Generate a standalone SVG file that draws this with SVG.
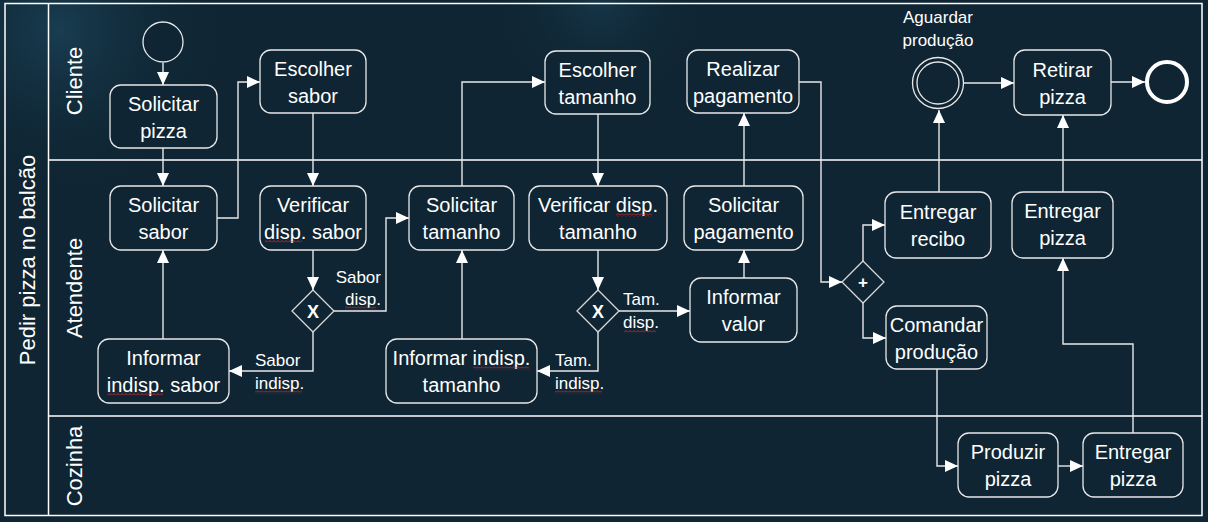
<svg xmlns="http://www.w3.org/2000/svg" width="1208" height="522" viewBox="0 0 1208 522">
<defs>
<radialGradient id="glow1" cx="60" cy="30" r="170" gradientUnits="userSpaceOnUse">
<stop offset="0" stop-color="#2a6a88" stop-opacity="0.35"/>
<stop offset="1" stop-color="#0f2533" stop-opacity="0"/>
</radialGradient>
<radialGradient id="glow2" cx="600" cy="0" r="110" gradientUnits="userSpaceOnUse">
<stop offset="0" stop-color="#2a6a88" stop-opacity="0.25"/>
<stop offset="1" stop-color="#0f2533" stop-opacity="0"/>
</radialGradient>
<marker id="arr" markerUnits="userSpaceOnUse" markerWidth="13" markerHeight="12" viewBox="0 0 13 12" refX="13" refY="6" orient="auto">
<path d="M0,0 L13,6 L0,12 z" fill="#ffffff"/>
</marker>
<pattern id="sq" width="4" height="3" patternUnits="userSpaceOnUse">
<path d="M0,2.5 L2,0.5 L4,2.5" fill="none" stroke="#e02828" stroke-width="0.9"/>
</pattern>
<style>
.lane{fill:none;stroke:#ffffff;stroke-width:1.5}
.task{fill:#0f2533;stroke:#e8e8e8;stroke-width:1.3}
.conn{fill:none;stroke:#e8e8e8;stroke-width:1.4;marker-end:url(#arr)}
.t{font-family:"Liberation Sans",Arial,sans-serif;font-size:20px;fill:#ffffff;text-anchor:middle}
.lbl{font-family:"Liberation Sans",Arial,sans-serif;font-size:17px;fill:#ffffff}
.lt{font-family:"Liberation Sans",Arial,sans-serif;font-size:22px;fill:#ffffff;text-anchor:middle}
.gw{fill:#0f2533;stroke:#d8d8d8;stroke-width:1.3}
.gm{font-family:"Liberation Sans",Arial,sans-serif;font-weight:bold;fill:#ffffff;text-anchor:middle}
.sq{fill:url(#sq)}
</style>
</defs>
<rect x="0" y="0" width="1208" height="522" fill="#0f2533"/>
<rect x="0" y="0" width="1208" height="522" fill="url(#glow1)"/>
<rect x="0" y="0" width="1208" height="522" fill="url(#glow2)"/>

<g id="pool">
<rect class="lane" x="5" y="3.5" width="1197" height="512"/>
<line class="lane" x1="48.5" y1="3.5" x2="48.5" y2="515.5"/>
<line class="lane" x1="48.5" y1="160" x2="1202" y2="160"/>
<line class="lane" x1="48.5" y1="416" x2="1202" y2="416"/>
<text class="lt" transform="translate(35,260) rotate(-90)">Pedir pizza no balcão</text>
<text class="lt" transform="translate(81.5,81) rotate(-90)">Cliente</text>
<text class="lt" transform="translate(81.5,288) rotate(-90)">Atendente</text>
<text class="lt" transform="translate(81.5,466) rotate(-90)">Cozinha</text>
</g>

<g id="connectors">
<path class="conn" d="M163,63 V85"/>
<path class="conn" d="M163,148 V186"/>
<path class="conn" d="M217,218 H238 V82 H260"/>
<path class="conn" d="M313,113 V186"/>
<path class="conn" d="M313,250 V290"/>
<path class="conn" d="M334,311 H386 V218 H409"/>
<path class="conn" d="M313,332 V371 H229"/>
<path class="conn" d="M163,339 V250"/>
<path class="conn" d="M462,186 V82 H545"/>
<path class="conn" d="M598,114 V186"/>
<path class="conn" d="M598,250 V290"/>
<path class="conn" d="M619,311 H690"/>
<path class="conn" d="M598,332 V371 H537"/>
<path class="conn" d="M462,339 V250"/>
<path class="conn" d="M744,278 V250"/>
<path class="conn" d="M744,186 V113"/>
<path class="conn" d="M799,82 H821 V282 H842"/>
<path class="conn" d="M863,261 V225 H885"/>
<path class="conn" d="M863,303 V338 H886"/>
<path class="conn" d="M939,192 V110"/>
<path class="conn" d="M964,83 H1014"/>
<path class="conn" d="M1111,82 H1145"/>
<path class="conn" d="M937,369 V466 H958"/>
<path class="conn" d="M1058,466 H1083"/>
<path class="conn" d="M1133,433 V344 H1063 V258"/>
<path class="conn" d="M1063,192 V115"/>
<text class="lbl" text-anchor="end" x="381" y="283">Sabor</text>
<text class="lbl" text-anchor="end" x="381" y="305">disp.</text>
<rect class="sq" x="345" y="306.5" width="31" height="3"/>
<text class="lbl" x="255" y="366">Sabor</text>
<text class="lbl" x="255" y="389">indisp.</text>
<rect class="sq" x="255" y="390.5" width="47" height="3"/>
<text class="lbl" x="623" y="305">Tam.</text>
<text class="lbl" x="623" y="328">disp.</text>
<rect class="sq" x="624" y="329.5" width="32" height="3"/>
<text class="lbl" x="555" y="366">Tam.</text>
<text class="lbl" x="555" y="389">indisp.</text>
<rect class="sq" x="555" y="390.5" width="47" height="3"/>
</g>

<g id="start">
<circle cx="163" cy="42" r="20" fill="#0f2533" stroke="#e8e8e8" stroke-width="1.3"/>
</g>
<g id="solicitar-pizza">
<rect class="task" x="110" y="85" width="107" height="63" rx="11"/>
<text class="t" x="163.5" y="111">Solicitar</text>
<text class="t" x="163.5" y="138">pizza</text>
</g>
<g id="escolher-sabor">
<rect class="task" x="260" y="50" width="106" height="63" rx="11"/>
<text class="t" x="313" y="76">Escolher</text>
<text class="t" x="313" y="103">sabor</text>
</g>
<g id="solicitar-sabor">
<rect class="task" x="110" y="186" width="107" height="64" rx="11"/>
<text class="t" x="163.5" y="212">Solicitar</text>
<text class="t" x="163.5" y="239">sabor</text>
</g>
<g id="verificar-sabor">
<rect class="task" x="260" y="186" width="106" height="64" rx="11"/>
<text class="t" x="313" y="212">Verificar</text>
<text class="t" x="313" y="239">disp. sabor</text>
<rect class="sq" x="265" y="239.5" width="37" height="3"/>
</g>
<g id="gw-sabor">
<path class="gw" d="M313,290 L334,311 L313,332 L292,311 z"/>
<text class="gm" x="313" y="318" font-size="18">X</text>
</g>
<g id="informar-indisp-sabor">
<rect class="task" x="98" y="339" width="131" height="64" rx="11"/>
<text class="t" x="163.5" y="365">Informar</text>
<text class="t" x="163.5" y="392">indisp. sabor</text>
<rect class="sq" x="107" y="392.5" width="56" height="3"/>
</g>
<g id="solicitar-tamanho">
<rect class="task" x="409" y="186" width="105" height="64" rx="11"/>
<text class="t" x="461.5" y="212">Solicitar</text>
<text class="t" x="461.5" y="239">tamanho</text>
</g>
<g id="escolher-tamanho">
<rect class="task" x="545" y="51" width="105" height="63" rx="11"/>
<text class="t" x="597.5" y="77">Escolher</text>
<text class="t" x="597.5" y="104">tamanho</text>
</g>
<g id="verificar-tamanho">
<rect class="task" x="529" y="186" width="138" height="64" rx="11"/>
<text class="t" x="598" y="212">Verificar disp.</text>
<text class="t" x="598" y="239">tamanho</text>
<rect class="sq" x="616" y="213.5" width="36" height="3"/>
</g>
<g id="gw-tamanho">
<path class="gw" d="M598,290 L619,311 L598,332 L577,311 z"/>
<text class="gm" x="598" y="318" font-size="18">X</text>
</g>
<g id="informar-indisp-tamanho">
<rect class="task" x="386" y="339" width="151" height="64" rx="11"/>
<text class="t" x="461.5" y="365">Informar indisp.</text>
<text class="t" x="461.5" y="392">tamanho</text>
<rect class="sq" x="473" y="366.5" width="56" height="3"/>
</g>
<g id="informar-valor">
<rect class="task" x="690" y="278" width="107" height="64" rx="11"/>
<text class="t" x="743.5" y="304">Informar</text>
<text class="t" x="743.5" y="331">valor</text>
</g>
<g id="solicitar-pagamento">
<rect class="task" x="684" y="186" width="119" height="64" rx="11"/>
<text class="t" x="743.5" y="212">Solicitar</text>
<text class="t" x="743.5" y="239">pagamento</text>
</g>
<g id="realizar-pagamento">
<rect class="task" x="687" y="50" width="112" height="63" rx="11"/>
<text class="t" x="743" y="76">Realizar</text>
<text class="t" x="743" y="103">pagamento</text>
</g>
<g id="gw-paralelo">
<path class="gw" d="M863,261 L884,282 L863,303 L842,282 z"/>
<text class="gm" x="863" y="288" font-size="17">+</text>
</g>
<g id="entregar-recibo">
<rect class="task" x="885" y="192" width="106" height="66" rx="11"/>
<text class="t" x="938" y="219">Entregar</text>
<text class="t" x="938" y="246">recibo</text>
</g>
<g id="comandar-producao">
<rect class="task" x="886" y="306" width="101" height="63" rx="11"/>
<text class="t" x="936.5" y="332">Comandar</text>
<text class="t" x="936.5" y="359">produção</text>
</g>
<g id="aguardar-producao">
<circle cx="938" cy="83" r="25.5" fill="#0f2533" stroke="#e8e8e8" stroke-width="1.3"/>
<circle cx="938" cy="83" r="21" fill="none" stroke="#e8e8e8" stroke-width="1.3"/>
<text class="lbl" text-anchor="middle" x="938" y="23" font-size="18">Aguardar</text>
<text class="lbl" text-anchor="middle" x="938" y="46" font-size="18">produção</text>
</g>
<g id="retirar-pizza">
<rect class="task" x="1014" y="50" width="97" height="65" rx="11"/>
<text class="t" x="1062.5" y="77">Retirar</text>
<text class="t" x="1062.5" y="104">pizza</text>
</g>
<g id="end">
<circle cx="1167" cy="82" r="20" fill="#0f2533" stroke="#ffffff" stroke-width="4"/>
</g>
<g id="entregar-pizza-atendente">
<rect class="task" x="1012" y="192" width="101" height="66" rx="11"/>
<text class="t" x="1062.5" y="218">Entregar</text>
<text class="t" x="1062.5" y="245">pizza</text>
</g>
<g id="produzir-pizza">
<rect class="task" x="958" y="433" width="100" height="64" rx="11"/>
<text class="t" x="1008" y="459">Produzir</text>
<text class="t" x="1008" y="486">pizza</text>
</g>
<g id="entregar-pizza-cozinha">
<rect class="task" x="1083" y="433" width="100" height="64" rx="11"/>
<text class="t" x="1133" y="459">Entregar</text>
<text class="t" x="1133" y="486">pizza</text>
</g>
</svg>
